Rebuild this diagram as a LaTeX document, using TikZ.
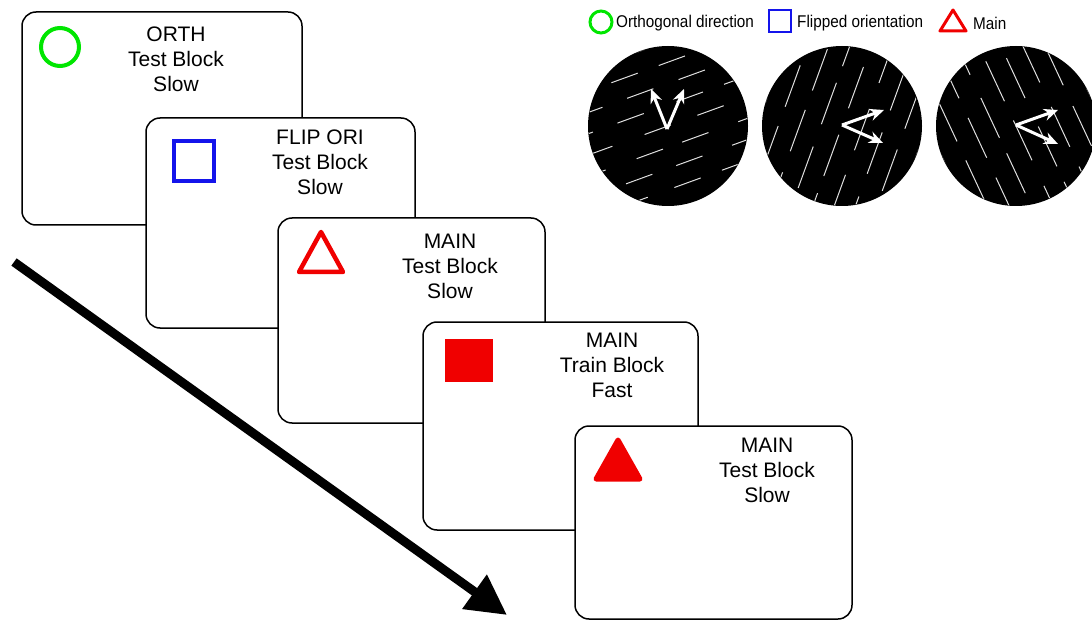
\documentclass[tikz,border=0pt]{standalone}
\usepackage{fontspec}
\setmainfont{Liberation Sans}
\newfontfamily\narrowfont[FakeStretch=0.9]{Liberation Sans}
\usetikzlibrary{arrows.meta}
\definecolor{sgreen}{RGB}{0,230,0}
\definecolor{sblue}{RGB}{20,20,235}
\definecolor{sred}{RGB}{240,0,0}
\tikzset{
  card/.style={draw=black, line width=1.5pt, fill=white, rounded corners=14pt},
  cardtext/.style={align=center, font=\fontsize{21}{25}\selectfont, anchor=north, inner sep=0pt},
  legtext/.style={anchor=west, font=\narrowfont\fontsize{17}{20}\selectfont, inner sep=0pt},
  grate/.style={draw=gray!25, line width=1pt},
  vec/.style={draw=white, line width=3pt, -{Stealth[length=14pt,width=12pt]}},
}
\newcommand{\gratingA}[6]{% center, rot, period, perp, length, seed
  \begin{scope}[shift={#1}]
    \fill[black] (0,0) circle (80);
    \begin{scope}
      \clip (0,0) circle (79.5);
      \pgfmathsetseed{#6}
      \begin{scope}[rotate=#2]
        \foreach \i in {-5,...,5}{
          \pgfmathsetmacro{\off}{rnd*#3}
          \foreach \j in {-4,...,4}{
            \pgfmathsetmacro{\u}{\j*#3+\off+rand*5}
            \draw[grate] (\u-#5/2,\i*#4) -- (\u+#5/2,\i*#4);
          }
        }
      \end{scope}
    \end{scope}
  \end{scope}
}
\begin{document}
\begin{tikzpicture}[x=1pt,y=-1pt]
\useasboundingbox (0,0) rectangle (1092,620);

% cards
\draw[card] (22,12) rectangle (302,225);
\node (t1) [cardtext] at (176,27) {ORTH\\Test Block\\Slow};
\node (s1) [draw=sgreen, line width=4pt, circle, minimum size=38pt, inner sep=0pt] at (60,47) {};

\draw[card] (146,118) rectangle (415,328);
\node (t2) [cardtext] at (320,130) {FLIP ORI\\Test Block\\Slow};
\node (s2) [draw=sblue, line width=4pt, minimum size=40pt, inner sep=0pt] at (194,161) {};

\draw[card] (278,218) rectangle (545,423);
\node (t3) [cardtext] at (450,234) {MAIN\\Test Block\\Slow};
\draw[sred, line width=4.5pt, line join=round] (299,272) -- (343,272) -- (321,232) -- cycle;

\draw[card] (423,322) rectangle (698,530);
\node (t4) [cardtext] at (612,333) {MAIN\\Train Block\\Fast};
\fill[sred] (445,339) rectangle (493,382);

\draw[card] (575,426) rectangle (852,619);
\node (t5) [cardtext] at (767,438) {MAIN\\Test Block\\Slow};
\fill[sred, draw=sred, line width=5pt, line join=round] (596,479) -- (640,479) -- (618,440) -- cycle;

% time arrow
\coordinate (a0) at (14,262);
\coordinate (a1) at (507,615);
\draw[line width=9pt, -{Triangle[length=40pt,width=40pt]}] (a0) -- (a1);

% legend
\node (lc) [draw=sgreen, line width=3pt, circle, minimum size=22pt, inner sep=0pt] at (601,22) {};
\node (lct) [legtext] at (616,23) {Orthogonal direction};
\node (ls) [draw=sblue, line width=2.5pt, minimum size=22pt, inner sep=0pt] at (780,21) {};
\node (lst) [legtext] at (797,23) {Flipped orientation};
\draw[sred, line width=3pt, line join=round] (940,31) -- (966,31) -- (953,10) -- cycle;
\node (ltt) [legtext] at (973,23) {Main};

% gratings
\gratingA{(668,126)}{20}{55}{20}{28}{3}
\gratingA{(842,126)}{70}{68}{20}{44}{5}
\gratingA{(1016,126)}{-65}{68}{20}{44}{9}

% motion vectors
\coordinate (o1) at (667,129);
\coordinate (p1) at (651,89);
\coordinate (q1) at (684,89);
\draw[vec] (o1) -- (p1);
\draw[vec] (o1) -- (q1);
\coordinate (o2) at (842,125);
\coordinate (p2) at (884,110);
\coordinate (q2) at (883,143);
\draw[vec] (o2) -- (p2);
\draw[vec] (o2) -- (q2);
\coordinate (o3) at (1016,125);
\coordinate (p3) at (1058,110);
\coordinate (q3) at (1058,144);
\draw[vec] (o3) -- (p3);
\draw[vec] (o3) -- (q3);
\end{tikzpicture}
\end{document}
